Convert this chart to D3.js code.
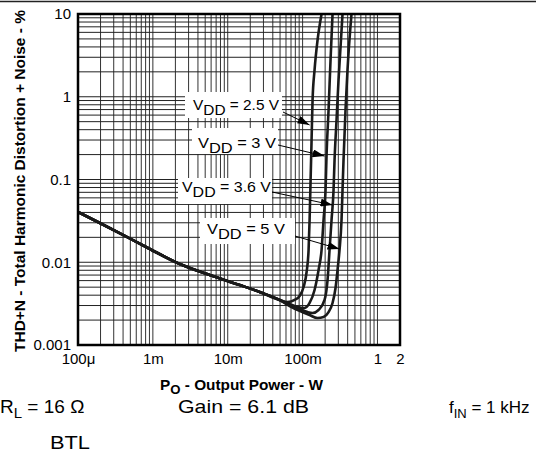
<!DOCTYPE html>
<html>
<head>
<meta charset="utf-8">
<script src="https://cdn.jsdelivr.net/npm/d3@7"></script>
<style>
  body { margin: 0; background: #fff; }
  text { font-family: "Liberation Sans", Arial, sans-serif; fill: #000; }
</style>
</head>
<body>
<div id="chart"></div>
<script>
// THD+N vs output power, four supply voltages

// axis ticks
var xTicks = [1e-4, 1e-3, 1e-2, 0.1, 1, 2];
var xTickLabels = ["100\u03bc", "1m", "10m", "100m", "1", "2"];
var yTicks = [0.001, 0.01, 0.1, 1, 10];
var yTickLabels = ["0.001", "0.01", "0.1", "1", "10"];

// low power part, shared by all curves (W, %)
var lowPower = [1e-4, 1.96e-4, 4.23e-4, 9.12e-4, 2.29e-3, 5.75e-3, 0.01445, 0.0267, 0.0493];
var lowThd   = [0.0405, 0.0298, 0.0208, 0.01445, 0.00952, 0.00701, 0.00531, 0.00437, 0.0035];

// clipping part of each curve
var power25 = [0.0631, 0.0782, 0.0912, 0.1031, 0.1131, 0.1202, 0.124, 0.1279, 0.1318, 0.1359, 0.1445, 0.1585, 0.1792];
var thd25   = [0.00331, 0.0035, 0.00391, 0.00502, 0.00762, 0.01406, 0.0324, 0.0986, 0.300, 0.913, 2.11, 4.85, 10];

var power3 = [0.0671, 0.0858, 0.1063, 0.124, 0.1445, 0.1634, 0.1792, 0.1905, 0.2026, 0.2089, 0.2222, 0.2362, 0.2512];
var thd3   = [0.00313, 0.00288, 0.0028, 0.00322, 0.00462, 0.00806, 0.01406, 0.0324, 0.0746, 0.1978, 0.692, 2.78, 10];

var power36 = [0.0671, 0.0912, 0.1166, 0.1359, 0.1634, 0.1965, 0.2154, 0.2291, 0.2436, 0.2591, 0.2672, 0.284, 0.302, 0.3415];
var thd36   = [0.00304, 0.00272, 0.0025, 0.00244, 0.00265, 0.0035, 0.0061, 0.01406, 0.0324, 0.0746, 0.172, 0.524, 1.594, 10];

var power5 = [0.0671, 0.0912, 0.124, 0.1585, 0.1905, 0.2222, 0.2512, 0.2754, 0.2929, 0.3114, 0.3311, 0.3415, 0.3521, 0.3744, 0.398, 0.4499];
var thd5   = [0.00296, 0.00258, 0.0023, 0.00212, 0.00218, 0.0025, 0.00322, 0.00488, 0.00806, 0.01406, 0.0324, 0.0746, 0.172, 0.692, 2.11, 10];

var seriesNames = ["2.5 V", "3 V", "3.6 V", "5 V"];
// where each label arrow points (W, %)
var arrowPower = [0.124, 0.1965, 0.2512, 0.3114];
var arrowThd   = [0.456, 0.192, 0.0492, 0.01445];

function makeSeries(p, t) {
  var pts = [];
  lowPower.forEach(function(v, i) { pts.push([v, lowThd[i]]); });
  p.forEach(function(v, i) { pts.push([v, t[i]]); });
  return pts;
}
var series = [
  makeSeries(power25, thd25),
  makeSeries(power3, thd3),
  makeSeries(power36, thd36),
  makeSeries(power5, thd5)
];

var W = 536, H = 452;
var margin = {top: 14, right: 136, bottom: 107, left: 78};
var width = W - margin.left - margin.right,
    height = H - margin.top - margin.bottom;

var svg = d3.select("#chart").append("svg")
  .attr("width", W).attr("height", H);

// page rule at the top
svg.append("line")
  .attr("x1", 0).attr("x2", W).attr("y1", 1.5).attr("y2", 1.5)
  .style("stroke", "#222").style("stroke-width", 1.5);

var g = svg.append("g")
  .attr("transform", "translate(" + margin.left + "," + margin.top + ")");

var x = d3.scaleLog().domain([1e-4, 2]).range([0, width]);
var y = d3.scaleLog().domain([0.001, 10]).range([height, 0]);

// grid
var xGrid = [], yGrid = [];
[-4, -3, -2, -1].forEach(function(n) {
  d3.range(1, 10).forEach(function(k) { xGrid.push(k * Math.pow(10, n)); });
});
xGrid.push(1, 2);
[-3, -2, -1, 0].forEach(function(n) {
  d3.range(1, 10).forEach(function(k) { yGrid.push(k * Math.pow(10, n)); });
});

g.append("g").selectAll("line").data(xGrid).join("line")
  .attr("x1", function(d) { return x(d); }).attr("x2", function(d) { return x(d); })
  .attr("y1", 0).attr("y2", height)
  .style("stroke", "#333").style("stroke-width", 1);
g.append("g").selectAll("line").data(yGrid).join("line")
  .attr("y1", function(d) { return y(d); }).attr("y2", function(d) { return y(d); })
  .attr("x1", 0).attr("x2", width)
  .style("stroke", "#222").style("stroke-width", 1);

// axes (labels only)
var xAxis = g.append("g")
  .attr("transform", "translate(0," + height + ")")
  .call(d3.axisBottom(x).tickValues(xTicks).tickSize(0).tickPadding(8)
    .tickFormat(function(d, i) { return xTickLabels[i]; }));
xAxis.select(".domain").remove();
xAxis.attr("font-family", null).attr("font-size", null);
xAxis.selectAll("text").style("font-size", "15px");

var yAxis = g.append("g")
  .call(d3.axisLeft(y).tickValues(yTicks).tickSize(0).tickPadding(7)
    .tickFormat(function(d, i) { return yTickLabels[i]; }));
yAxis.select(".domain").remove();
yAxis.attr("font-family", null).attr("font-size", null);
yAxis.selectAll("text").style("font-size", "15px");

// curves
g.append("clipPath").attr("id", "clip").append("rect")
  .attr("width", width).attr("height", height);

var line = d3.line()
  .x(function(d) { return x(d[0]); })
  .y(function(d) { return y(d[1]); })
  .curve(d3.curveMonotoneX);

g.append("g").attr("clip-path", "url(#clip)")
  .selectAll("path").data(series).join("path")
  .attr("d", line)
  .style("fill", "none")
  .style("stroke", "#1a1a1a")
  .style("stroke-width", 2.6)
  .style("stroke-linejoin", "round");

// frame
g.append("rect")
  .attr("width", width).attr("height", height)
  .style("fill", "none").style("stroke", "#000").style("stroke-width", 2.5);

// arrow head
svg.append("defs").append("marker")
  .attr("id", "arrow").attr("viewBox", "0 0 12 8")
  .attr("refX", 12).attr("refY", 4)
  .attr("markerWidth", 12).attr("markerHeight", 8)
  .attr("markerUnits", "userSpaceOnUse")
  .attr("orient", "auto")
  .append("path").attr("d", "M0,0 L12,4 L0,8 z").style("fill", "#000");

// label boxes (page pixels, relative to plot)
var labelBox = [
  {x: 107, y: 78, w: 97, h: 26, tx: 115, ty: 96, ax: 205, ay: 98, len: 86},
  {x: 114, y: 114, w: 86, h: 26, tx: 120, ty: 134, ax: 200, ay: 131, len: 78},
  {x: 100, y: 164, w: 94, h: 26, tx: 104, ty: 178, ax: 194, ay: 178, len: 89},
  {x: 122, y: 204, w: 95, h: 26, tx: 129, ty: 220, ax: 217, ay: 222, len: 78}
];

labelBox.forEach(function(b, i) {
  g.append("rect")
    .attr("x", b.x).attr("y", b.y).attr("width", b.w).attr("height", b.h)
    .style("fill", "#fff");
  g.append("line")
    .attr("x1", b.ax).attr("y1", b.ay)
    .attr("x2", x(arrowPower[i])).attr("y2", y(arrowThd[i]))
    .style("stroke", "#000").style("stroke-width", 1)
    .attr("marker-end", "url(#arrow)");
  var t = g.append("text")
    .attr("x", b.tx).attr("y", b.ty)
    .style("font-size", "15px")
    .attr("textLength", b.len).attr("lengthAdjust", "spacingAndGlyphs");
  t.append("tspan").text("V");
  t.append("tspan").attr("dy", 5).text("DD");
  t.append("tspan").attr("dy", -5).text(" = " + seriesNames[i]);
});

// axis titles
svg.append("text")
  .attr("transform", "translate(25,181) rotate(-90)")
  .attr("text-anchor", "middle")
  .style("font-size", "15px").style("font-weight", "bold")
  .attr("textLength", 342).attr("lengthAdjust", "spacingAndGlyphs")
  .text("THD+N - Total Harmonic Distortion + Noise - %");

var xt = svg.append("text")
  .attr("x", 160).attr("y", 390)
  .style("font-size", "14px").style("font-weight", "bold")
  .attr("textLength", 163).attr("lengthAdjust", "spacingAndGlyphs");
xt.append("tspan").text("P");
xt.append("tspan").attr("dy", 4).style("font-size", "12px").text("O");
xt.append("tspan").attr("dy", -4).text(" - Output Power - W");

// test conditions
var c1 = svg.append("text").attr("x", 0).attr("y", 413)
  .style("font-size", "19px");
c1.append("tspan").text("R");
c1.append("tspan").attr("dy", 5).style("font-size", "15px").text("L");
c1.append("tspan").attr("dy", -5).text(" = 16 \u03a9");

svg.append("text").attr("x", 178).attr("y", 413)
  .style("font-size", "19px")
  .attr("textLength", 131).attr("lengthAdjust", "spacingAndGlyphs")
  .text("Gain = 6.1 dB");

var c3 = svg.append("text").attr("x", 449).attr("y", 413)
  .style("font-size", "17px");
c3.append("tspan").text("f");
c3.append("tspan").attr("dy", 5).style("font-size", "13px").text("IN");
c3.append("tspan").attr("dy", -5).text(" = 1 kHz");

svg.append("text").attr("x", 50).attr("y", 449)
  .style("font-size", "19px")
  .attr("textLength", 40).attr("lengthAdjust", "spacingAndGlyphs")
  .text("BTL");
</script>
</body>
</html>
